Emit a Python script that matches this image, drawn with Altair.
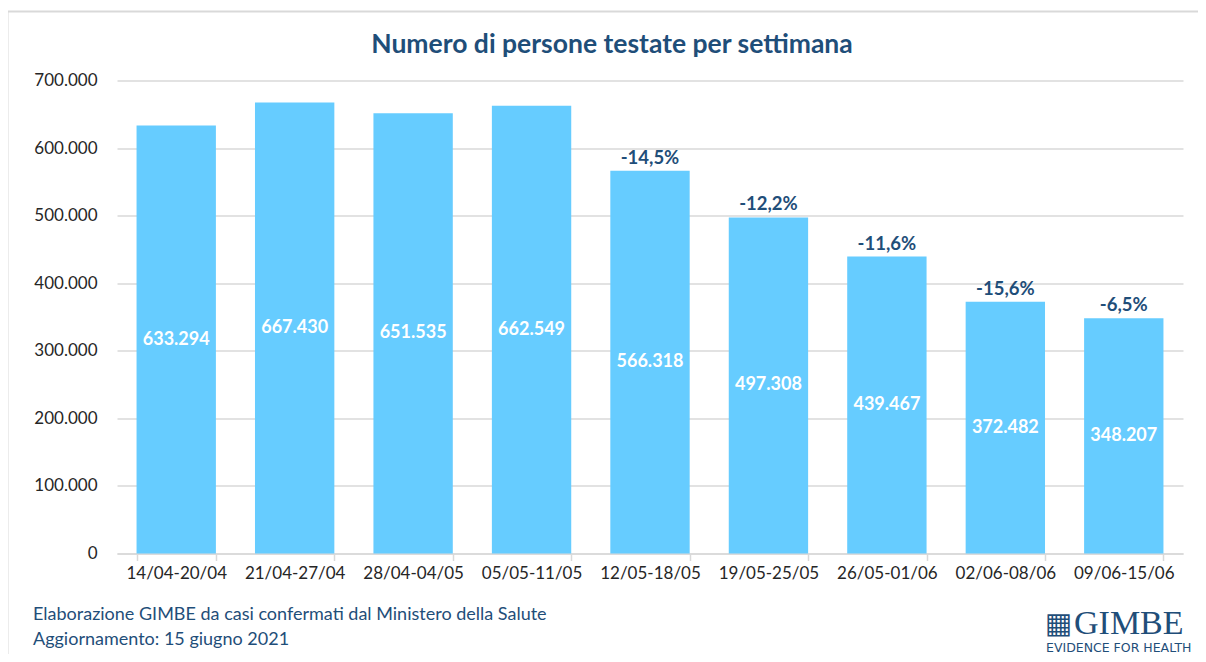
import altair as alt
import pandas as pd

weeks = ["14/04-20/04", "21/04-27/04", "28/04-04/05", "05/05-11/05", "12/05-18/05",
         "19/05-25/05", "26/05-01/06", "02/06-08/06", "09/06-15/06"]
tested = [633294, 667430, 651535, 662549, 566318, 497308, 439467, 372482, 348207]
pct_change = ["", "", "", "", "-14,5%", "-12,2%", "-11,6%", "-15,6%", "-6,5%"]
y_ticks = [0, 100000, 200000, 300000, 400000, 500000, 600000, 700000]

df = pd.DataFrame({"week": weeks, "tested": tested, "pct": pct_change})

FONT = "Lato"
BLUE = "#1F4E79"
GRID = "#D9D9D9"

x_enc = alt.X("week:N", sort=weeks, title=None,
              scale=alt.Scale(paddingInner=0.33, paddingOuter=0.165),
              axis=alt.Axis(labelAngle=0, labelFontSize=17, labelColor="#262626",
                            labelFont=FONT, domainColor=GRID, domainWidth=1.5,
                            tickColor=GRID, tickWidth=1.5, tickSize=7, tickBand="extent",
                            labelPadding=5))
y_scale = alt.Scale(domain=[0, 700000])

base = alt.Chart(df)

bars = base.mark_bar(color="#66CCFF").encode(
    x=x_enc,
    y=alt.Y("tested:Q", scale=y_scale, title=None,
            axis=alt.Axis(values=y_ticks, format=",.0f",
                          labelFontSize=17, labelColor="#262626", labelFont=FONT,
                          domain=False, ticks=False, gridColor=GRID, gridWidth=1.5,
                          labelPadding=20)),
)

inner = base.transform_calculate(mid="datum.tested / 2").mark_text(
    color="white", fontWeight="bold", fontSize=18, font=FONT
).encode(x=alt.X("week:N", sort=weeks), y=alt.Y("mid:Q", scale=y_scale),
         text=alt.Text("tested:Q", format=",.0f"))

top = base.mark_text(color=BLUE, fontWeight="bold", fontSize=18.5, font=FONT,
                     baseline="bottom", dy=-3).encode(
    x=alt.X("week:N", sort=weeks), y=alt.Y("tested:Q", scale=y_scale), text="pct:N")

frame = alt.Chart(pd.DataFrame({"a": [0]})).mark_rect(
    fill=None, stroke=GRID, strokeWidth=2).encode(
    x=alt.value(-109.5), x2=alt.value(1120), y=alt.value(-69), y2=alt.value(620))

title_df = pd.DataFrame({"t": ["Numero di persone testate per settimana"]})
title = alt.Chart(title_df).mark_text(font=FONT, fontSize=26.5, fontWeight="bold",
                                      color=BLUE).encode(
    text="t:N", x=alt.value(495), y=alt.value(-36))

foot_df = pd.DataFrame({"t": ["Elaborazione GIMBE da casi confermati dal Ministero della Salute",
                              "Aggiornamento: 15 giugno 2021"],
                        "yy": [534.5, 559.5]})
foot = alt.Chart(foot_df).mark_text(font=FONT, fontSize=18, color=BLUE, align="left").encode(
    text="t:N", x=alt.value(-84), y=alt.Y("yy:Q", scale=None))

logo = alt.Chart(pd.DataFrame({"t": ["GIMBE"]})).mark_text(
    font="Liberation Serif", fontSize=34, color=BLUE, align="left",
    baseline="alphabetic").encode(
    text="t:N", x=alt.value(957), y=alt.value(553))
icon = alt.Chart(pd.DataFrame({"t": ["▦"]})).mark_text(
    font="DejaVu Sans", fontSize=29, color=BLUE, align="left").encode(
    text="t:N", x=alt.value(928), y=alt.value(543))
tag = alt.Chart(pd.DataFrame({"t": ["EVIDENCE FOR HEALTH"]})).mark_text(
    font="DejaVu Sans", fontSize=12.5, color=BLUE, align="left",
    baseline="top").encode(
    text="t:N", x=alt.value(929), y=alt.value(561))

chart = alt.layer(frame, bars, inner, top, title, foot, logo, icon, tag).properties(
    width=1066, height=473,
    autosize=alt.AutoSizeParams(type="none"),
    padding={"left": 109, "top": 72.5, "right": 15, "bottom": 100},
).configure(
    locale={"number": {"decimal": ",", "thousands": ".", "grouping": [3], "currency": ["€", ""]}}
).configure_view(stroke=None)

chart.save("out.html", embed_options={"renderer": "svg", "actions": False})
